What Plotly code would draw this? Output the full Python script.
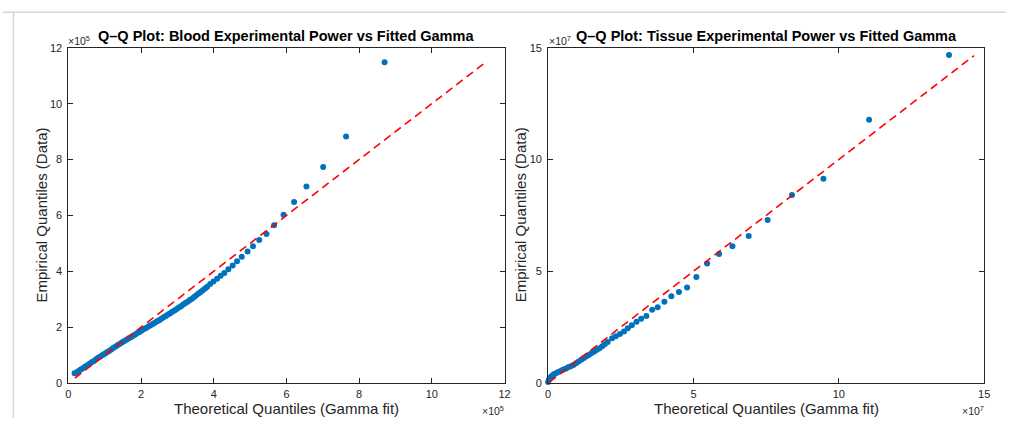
import plotly.graph_objects as go

# ---------------- data (values in units of 1e5 for Blood, 1e7 for Tissue) ----------------
blood_theoretical = [0.17, 0.22, 0.28, 0.34, 0.40, 0.46, 0.52, 0.58, 0.64, 0.70, 0.76, 0.82, 0.88, 0.94,
                     1.00, 1.06, 1.12, 1.18, 1.24, 1.30, 1.36, 1.42, 1.48, 1.54, 1.60, 1.66, 1.72, 1.78,
                     1.84, 1.90, 1.96, 2.02, 2.08, 2.14, 2.20, 2.26, 2.32, 2.38, 2.44, 2.50, 2.56, 2.62,
                     2.68, 2.74, 2.80, 2.86, 2.92, 2.98, 3.04, 3.10, 3.16, 3.22, 3.28, 3.34, 3.40, 3.46,
                     3.52, 3.58, 3.64, 3.70, 3.76,
                     3.82, 3.90, 3.99, 4.09, 4.19, 4.29, 4.40, 4.52, 4.64, 4.77, 4.93, 5.08, 5.25, 5.45,
                     5.66, 5.92, 6.21, 6.55, 7.01, 7.64, 8.70]
blood_empirical = [0.35, 0.38, 0.43, 0.48, 0.53, 0.59, 0.64, 0.69, 0.74, 0.79, 0.85, 0.90, 0.95, 1.00,
                   1.05, 1.10, 1.15, 1.20, 1.26, 1.31, 1.36, 1.41, 1.46, 1.50, 1.55, 1.60, 1.64, 1.69,
                   1.74, 1.79, 1.83, 1.88, 1.93, 1.97, 2.02, 2.07, 2.11, 2.16, 2.21, 2.25, 2.30, 2.35,
                   2.40, 2.45, 2.50, 2.55, 2.60, 2.65, 2.70, 2.75, 2.81, 2.86, 2.91, 2.97, 3.02, 3.08,
                   3.14, 3.20, 3.26, 3.32, 3.38,
                   3.45, 3.54, 3.63, 3.73, 3.84, 3.94, 4.07, 4.21, 4.36, 4.52, 4.71, 4.90, 5.12, 5.33,
                   5.65, 6.02, 6.48, 7.03, 7.73, 8.82, 11.48]
blood_ref = [0.18, 11.45]

tissue_theoretical = [0.00, 0.03, 0.06, 0.10, 0.15, 0.20, 0.27, 0.35, 0.43, 0.51, 0.60, 0.69, 0.78, 0.87,
                      0.96, 1.05, 1.14, 1.23, 1.32, 1.41, 1.50, 1.59, 1.68, 1.77, 1.86, 1.95, 2.05, 2.20,
                      2.33, 2.47, 2.61, 2.74, 2.88, 3.04, 3.20, 3.38, 3.58, 3.77, 4.00, 4.24, 4.50, 4.78,
                      5.10, 5.47, 5.88, 6.34, 6.90, 7.55, 8.39, 9.47, 11.04, 13.79]
tissue_empirical = [0.05, 0.15, 0.22, 0.28, 0.34, 0.39, 0.44, 0.49, 0.54, 0.59, 0.64, 0.70, 0.75, 0.81,
                    0.88, 0.96, 1.04, 1.12, 1.20, 1.27, 1.34, 1.41, 1.49, 1.56, 1.64, 1.73, 1.84, 2.00,
                    2.09, 2.19, 2.31, 2.45, 2.59, 2.74, 2.88, 3.00, 3.28, 3.39, 3.64, 3.88, 4.07, 4.27,
                    4.74, 5.35, 5.77, 6.12, 6.58, 7.29, 8.41, 9.14, 11.78, 14.68]
tissue_ref = [0.05, 14.65]

blood_ticks = [0, 2, 4, 6, 8, 10, 12]
tissue_ticks = [0, 5, 10, 15]

# ---------------- styling ----------------
W, H = 1012, 424
BLUE = "#0072BD"
FONT = "Liberation Sans, Arial, Helvetica, sans-serif"
AX = "#262626"

def px_x(p):
    return p / W

def px_y(p):
    return 1 - p / H

fig = go.Figure()

fig.add_trace(go.Scatter(x=blood_theoretical, y=blood_empirical, mode="markers",
                         marker=dict(color=BLUE, size=6, line=dict(width=0)),
                         xaxis="x", yaxis="y", showlegend=False, cliponaxis=False))
fig.add_trace(go.Scatter(x=blood_ref, y=blood_ref, mode="lines",
                         line=dict(color="#FF0000", width=1.6, dash="8px,5px"),
                         xaxis="x", yaxis="y", showlegend=False))
fig.add_trace(go.Scatter(x=tissue_theoretical, y=tissue_empirical, mode="markers",
                         marker=dict(color=BLUE, size=6, line=dict(width=0)),
                         xaxis="x2", yaxis="y2", showlegend=False, cliponaxis=False))
fig.add_trace(go.Scatter(x=tissue_ref, y=tissue_ref, mode="lines",
                         line=dict(color="#FF0000", width=1.6, dash="8px,5px"),
                         xaxis="x2", yaxis="y2", showlegend=False))

ydom = [px_y(388), px_y(43)]
axis_common = dict(showline=True, linecolor=AX, linewidth=1, mirror="allticks",
                   ticks="inside", ticklen=5, tickwidth=1, tickcolor=AX,
                   showgrid=False, zeroline=False,
                   tickfont=dict(family=FONT, size=11, color=AX))

fig.update_layout(
    width=W, height=H,
    margin=dict(l=0, r=0, t=0, b=0),
    paper_bgcolor="white", plot_bgcolor="white",
    xaxis=dict(domain=[px_x(66), px_x(506)], range=[0, 12], tickvals=blood_ticks,
               anchor="y", ticklabelstandoff=1, **axis_common),
    yaxis=dict(domain=ydom, range=[0, 12], tickvals=blood_ticks, anchor="x",
               ticklabelstandoff=3, **axis_common),
    xaxis2=dict(domain=[px_x(550), px_x(990)], range=[0, 15], tickvals=tissue_ticks,
                anchor="y2", ticklabelstandoff=1, **axis_common),
    yaxis2=dict(domain=ydom, range=[0, 15], tickvals=tissue_ticks, anchor="x2",
                ticklabelstandoff=3, **axis_common),
)

ann = []
def add(text, x, y, size, xanchor="center", yanchor="middle", angle=0, bold=False, color="black"):
    if bold:
        text = "<b>" + text + "</b>"
    ann.append(dict(text=text, x=px_x(x), y=px_y(y), xref="paper", yref="paper",
                    showarrow=False, xanchor=xanchor, yanchor=yanchor, textangle=angle,
                    borderpad=0,
                    font=dict(family=FONT, size=size, color=color)))

add("Q–Q Plot: Blood Experimental Power vs Fitted Gamma", 286, 31, 14.5, bold=True)
add("Q–Q Plot: Tissue Experimental Power vs Fitted Gamma", 770, 31, 14.5, bold=True)
add("Theoretical Quantiles (Gamma fit)", 286, 414, 15, color=AX)
add("Theoretical Quantiles (Gamma fit)", 770, 414, 15, color=AX)
add("Empirical Quantiles (Data)", 39, 215, 15, angle=-90, color=AX)
add("Empirical Quantiles (Data)", 523, 215, 15, angle=-90, color=AX)
add("×10<sup>5</sup>", 65, 35, 10.5, xanchor="left", color=AX)
add("×10<sup>5</sup>", 507, 416, 10.5, xanchor="right", color=AX)
add("×10<sup>7</sup>", 550, 35, 10.5, xanchor="left", color=AX)
add("×10<sup>7</sup>", 991, 416, 10.5, xanchor="right", color=AX)
fig.update_layout(annotations=ann)

# window frame lines (light gray) seen in the reference
fig.update_layout(shapes=[
    dict(type="line", xref="paper", yref="paper", x0=0, x1=1, y0=px_y(6.5), y1=px_y(6.5),
         line=dict(color="#d6d6d6", width=1.5)),
    dict(type="line", xref="paper", yref="paper", x0=px_x(10.5), x1=px_x(10.5), y0=0, y1=px_y(6.5),
         line=dict(color="#d6d6d6", width=1.5)),
])

fig.write_html("out.html")
